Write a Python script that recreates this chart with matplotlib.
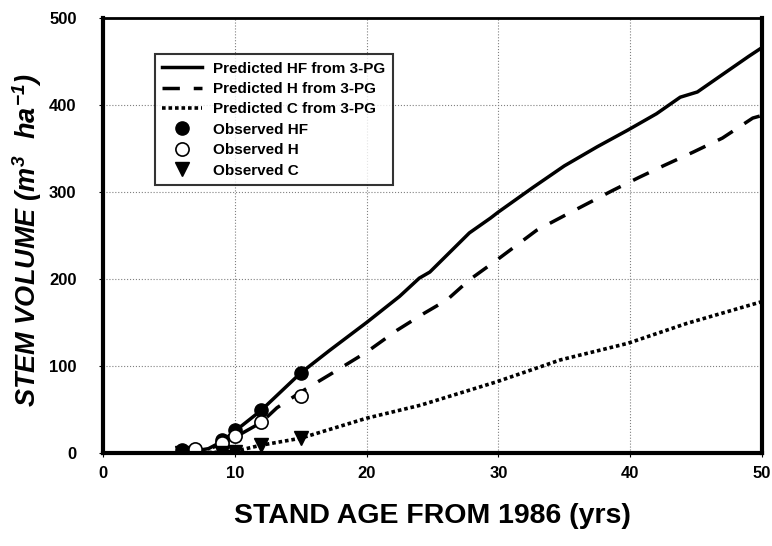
import matplotlib
matplotlib.use('Agg')
import matplotlib.pyplot as plt
import numpy as np

plt.rcParams['font.family'] = ['Liberation Sans', 'DejaVu Sans']
plt.rcParams['mathtext.fontset'] = 'custom'
plt.rcParams['mathtext.it'] = 'Liberation Sans:bold:italic'
plt.rcParams['mathtext.rm'] = 'Liberation Sans:bold:italic'

# Прогнозы 3-PG
age_hf = [6, 8, 9, 10, 12, 15, 17.2, 20, 22.5, 24, 24.8, 27.8, 29.4, 30, 32.6, 35, 37.5, 39.8, 42, 43.8, 45.1, 47, 49, 50]
vol_hf = [0, 5, 13, 25, 49, 92, 118, 150, 180, 201, 208, 253, 270, 277, 305, 330, 352, 371, 390, 409, 415, 435, 456, 466]

age_h = [6, 8, 10, 12, 13.2, 15, 17.2, 20, 22.3, 24.3, 26.1, 27.8, 29.9, 32.9, 35.4, 38.7, 40.7, 42.5, 44.8, 47, 49.3, 50]
vol_h = [0, 4, 18, 35, 52, 70, 90, 116, 141, 160, 176, 199, 222, 256, 276, 302, 317, 330, 346, 362, 385, 388]

age_c = [6, 9, 10, 12, 15, 20, 24.1, 29.9, 34.7, 39.8, 44.3, 50]
vol_c = [0, 1, 2, 9, 17, 40, 55, 82, 107, 126, 149, 174]

# Наблюдения
obs_hf_age = [6, 9, 10, 12, 15]
obs_hf_vol = [3, 15, 26, 49, 92]
obs_h_age = [7, 9, 10, 12, 15]
obs_h_vol = [5, 12, 20, 36, 65]
obs_c_age = [6, 9, 10, 12, 15]
obs_c_vol = [0, 0, 1, 9, 17]

fig = plt.figure(figsize=(7.72, 5.46), dpi=100)
ax = fig.add_axes([0.1334, 0.1703, 0.8536, 0.7967])

ax.plot(age_hf, vol_hf, 'k-', linewidth=2.5, label='Predicted HF from 3-PG')
ax.plot(age_h, vol_h, 'k', linestyle=(0, (5, 4)), linewidth=2.5, label='Predicted H from 3-PG')
ax.plot(age_c, vol_c, 'k', linestyle=(0, (1, 0.8)), linewidth=2.6, label='Predicted C from 3-PG')
ax.plot(obs_hf_age, obs_hf_vol, 'o', color='black', markersize=9.5, linestyle='none', label='Observed HF')
ax.plot(obs_h_age, obs_h_vol, 'o', markerfacecolor='white', markeredgecolor='black',
        markersize=9.5, markeredgewidth=1.2, linestyle='none', label='Observed H')
ax.plot(obs_c_age, obs_c_vol, 'v', color='black', markersize=9.5, linestyle='none', label='Observed C')

ax.set_xlim(0, 50)
ax.set_ylim(0, 500)
ax.set_xticks([0, 10, 20, 30, 40, 50])
ax.set_yticks([0, 100, 200, 300, 400, 500])
ax.grid(True, color='gray', linestyle=':', linewidth=0.8)
for lbl in ax.get_xticklabels() + ax.get_yticklabels():
    lbl.set_fontweight('bold')
    lbl.set_fontsize(12)
ax.tick_params(axis='x', length=3, width=0.8, pad=6)
ax.tick_params(axis='y', length=3, width=0.8, pad=16)

for s in ['left', 'bottom', 'right']:
    ax.spines[s].set_linewidth(3)
ax.spines['top'].set_linewidth(2)

ax.set_xlabel('STAND AGE FROM 1986 (yrs)', fontsize=20.5, fontweight='bold', labelpad=16)
ax.set_ylabel('STEM VOLUME $(m^3\\ \\ ha^{-1})$', fontsize=19.5, fontweight='bold',
              fontstyle='italic')
ax.yaxis.set_label_coords(-0.09, 0.49)

leg = ax.legend(loc='upper left', bbox_to_anchor=(0.067, 0.935), prop={'weight': 'bold', 'size': 11},
                frameon=True, fancybox=False, edgecolor='black', handlelength=2.6,
                handletextpad=0.7, labelspacing=0.42, borderpad=0.5)
leg.get_frame().set_linewidth(1.5)

plt.savefig('out.png', dpi=100)
